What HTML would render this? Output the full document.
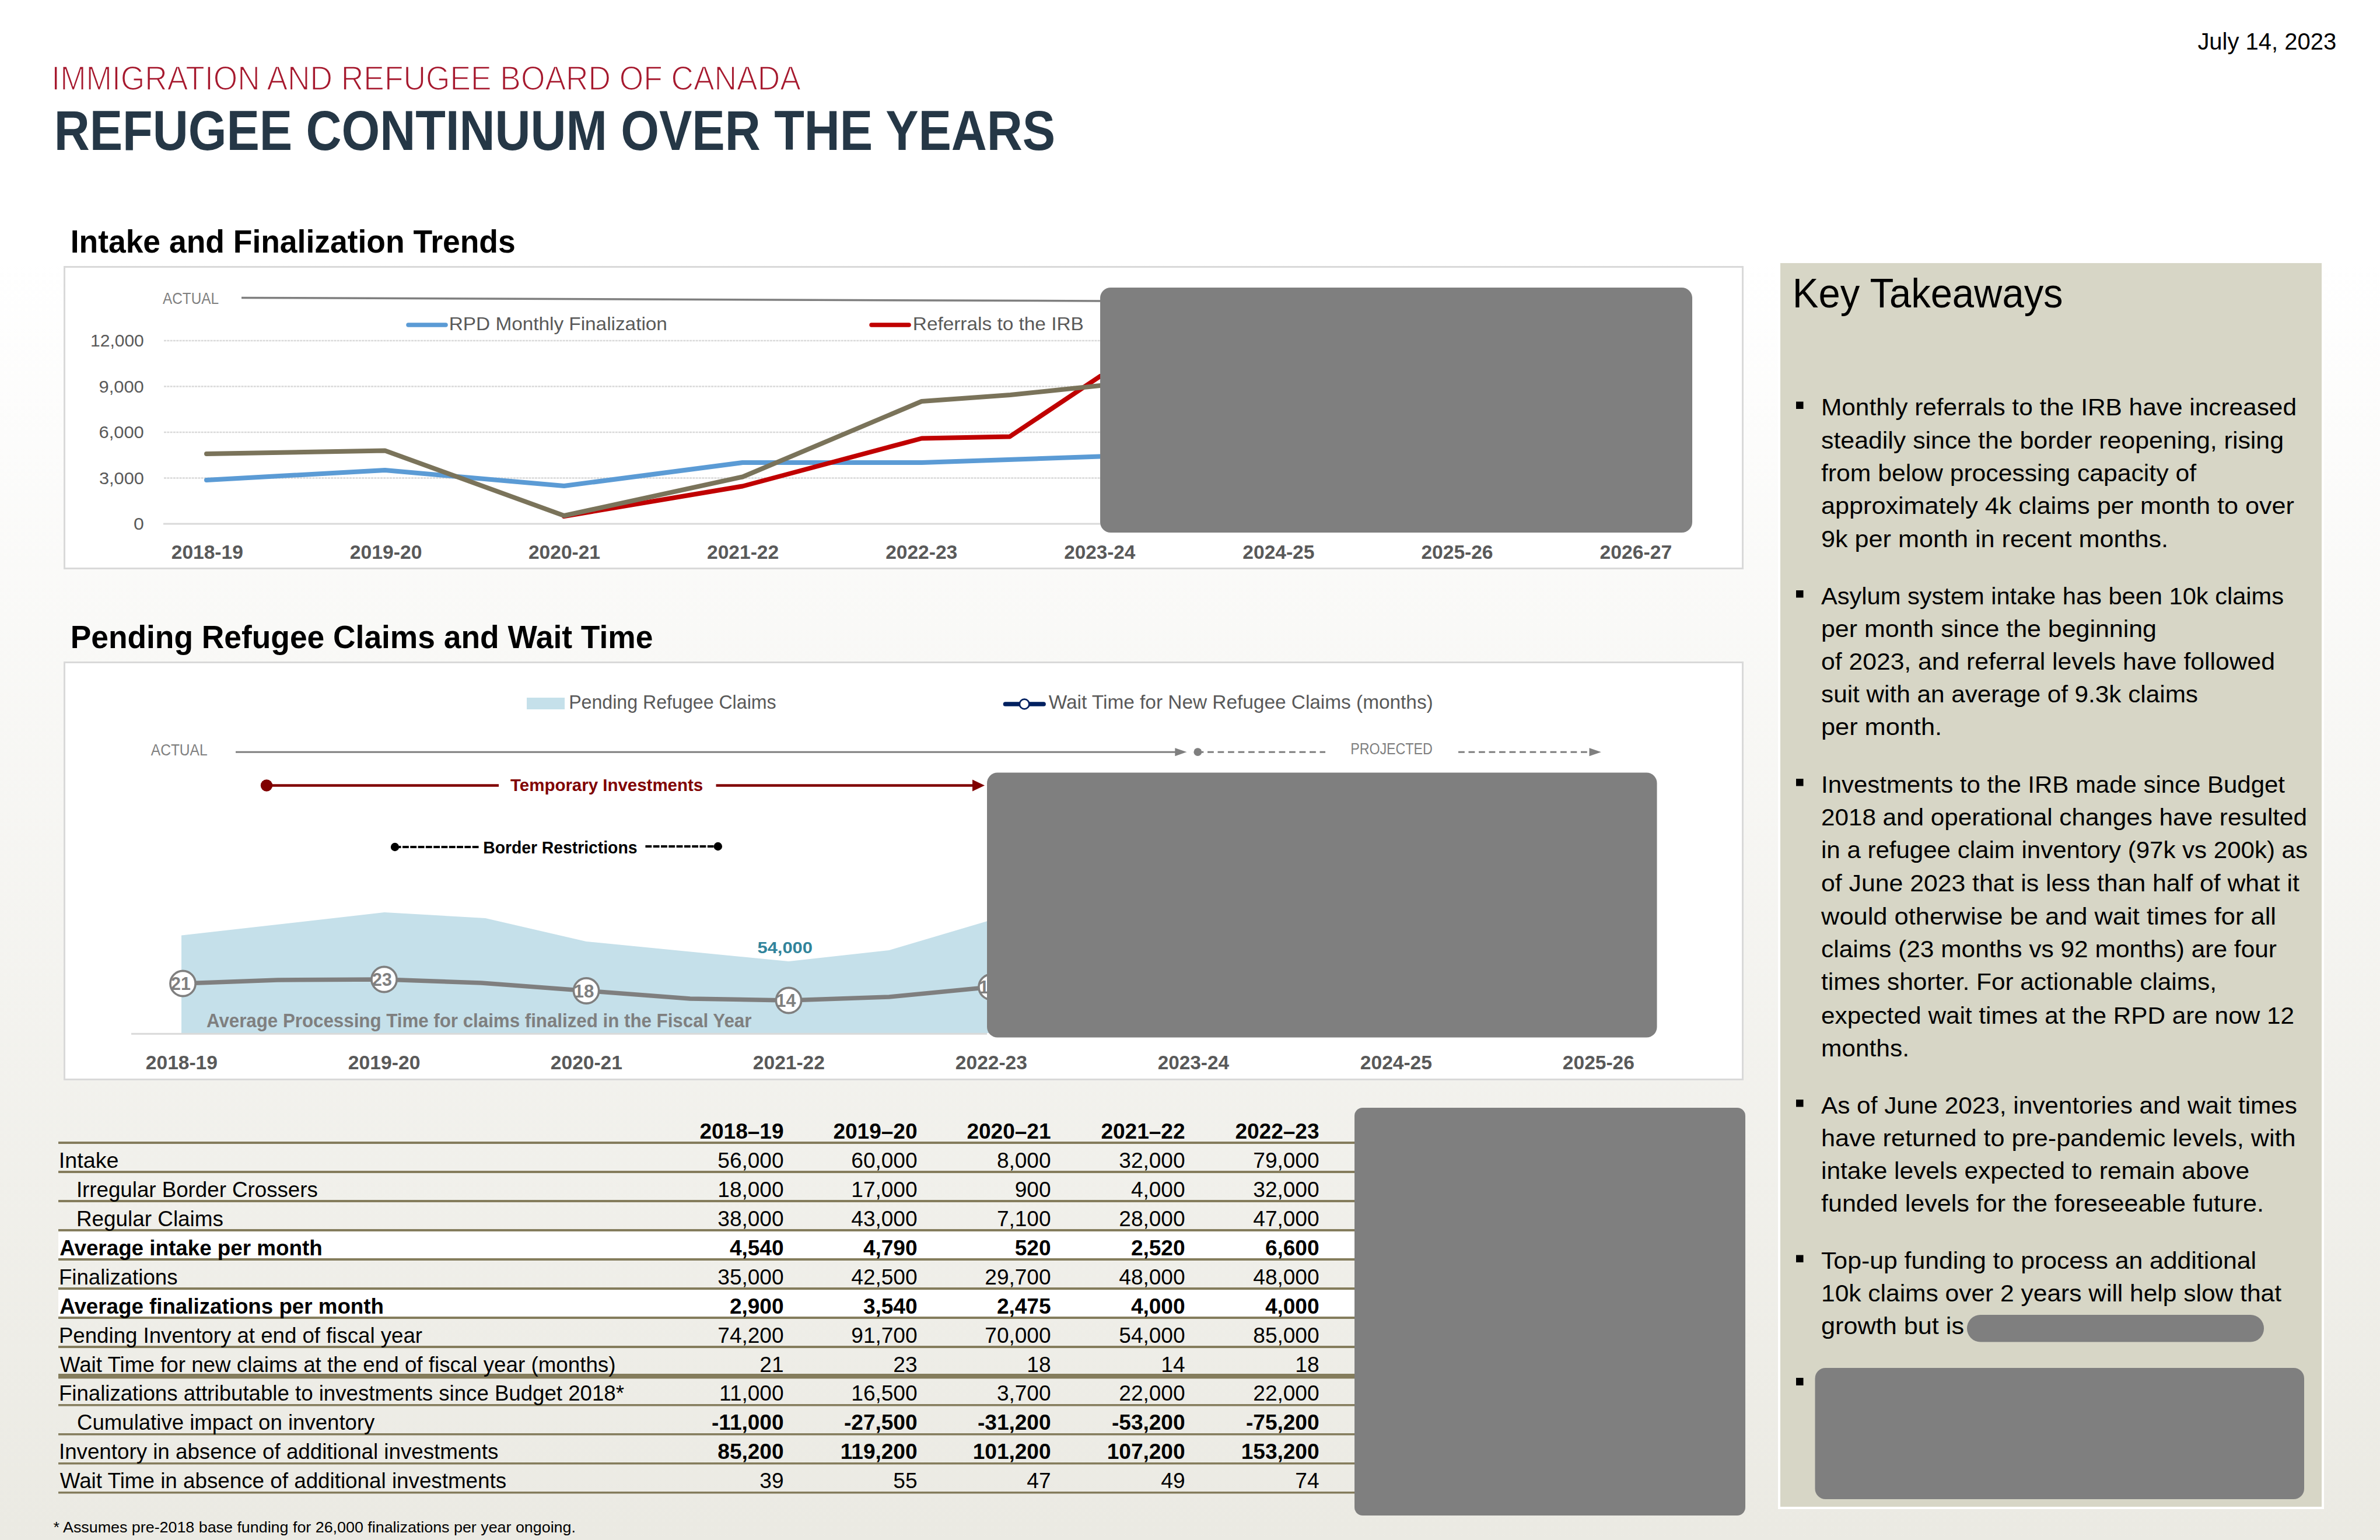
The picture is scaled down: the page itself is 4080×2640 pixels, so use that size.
<!DOCTYPE html>
<html><head><meta charset="utf-8"><title>Refugee Continuum Over the Years</title>
<style>
html,body{margin:0;padding:0;width:4080px;height:2640px;overflow:hidden;background:#fff}
svg{display:block;font-family:"Liberation Sans",sans-serif}
</style></head><body>
<svg width="4080" height="2640" viewBox="0 0 4080 2640">
<defs><linearGradient id="bg" x1="0" y1="0" x2="0" y2="1"><stop offset="0" stop-color="#ffffff"/><stop offset="0.17" stop-color="#ffffff"/><stop offset="1" stop-color="#ebeae3"/></linearGradient></defs>
<rect x="0" y="0" width="4080" height="2640" fill="url(#bg)"/>
<text x="3767.38" y="85" font-size="41.5" textLength="237.74" lengthAdjust="spacingAndGlyphs">July 14, 2023</text>
<text x="88.34" y="153.5" font-size="57" fill="#a6192e" textLength="1284.4" lengthAdjust="spacingAndGlyphs" stroke="#ffffff" stroke-width="1.6">IMMIGRATION AND REFUGEE BOARD OF CANADA</text>
<text x="92.72" y="256.5" font-size="97" font-weight="bold" fill="#253746" textLength="1716.5" lengthAdjust="spacingAndGlyphs">REFUGEE CONTINUUM OVER THE YEARS</text>
<text x="120.66" y="433" font-size="56" font-weight="bold" textLength="763.0" lengthAdjust="spacingAndGlyphs">Intake and Finalization Trends</text>
<text x="120.67" y="1111" font-size="56" font-weight="bold" textLength="998.66" lengthAdjust="spacingAndGlyphs">Pending Refugee Claims and Wait Time</text>
<rect x="110.5" y="457.5" width="2877" height="517" fill="#ffffff" stroke="#d9d9d9" stroke-width="3"/>
<line x1="281" y1="819.5" x2="1886" y2="819.5" stroke="#d9d9d9" stroke-width="2.5" stroke-dasharray="4 1.3"/>
<line x1="281" y1="741.0" x2="1886" y2="741.0" stroke="#d9d9d9" stroke-width="2.5" stroke-dasharray="4 1.3"/>
<line x1="281" y1="662.5" x2="1886" y2="662.5" stroke="#d9d9d9" stroke-width="2.5" stroke-dasharray="4 1.3"/>
<line x1="281" y1="584.0" x2="1886" y2="584.0" stroke="#d9d9d9" stroke-width="2.5" stroke-dasharray="4 1.3"/>
<line x1="280" y1="898" x2="1886" y2="898" stroke="#d9d9d9" stroke-width="3"/>
<text x="229.0" y="908.0" font-size="29.5" fill="#595959" textLength="17.8" lengthAdjust="spacingAndGlyphs">0</text>
<text x="170.04" y="829.5" font-size="29.5" fill="#595959" textLength="76.72" lengthAdjust="spacingAndGlyphs">3,000</text>
<text x="169.55" y="751.0" font-size="29.5" fill="#595959" textLength="77.21" lengthAdjust="spacingAndGlyphs">6,000</text>
<text x="169.55" y="672.5" font-size="29.5" fill="#595959" textLength="77.21" lengthAdjust="spacingAndGlyphs">9,000</text>
<text x="155.13" y="594.0" font-size="29.5" fill="#595959" textLength="91.62" lengthAdjust="spacingAndGlyphs">12,000</text>
<text x="279.0" y="521" font-size="27.5" fill="#7f7f7f" textLength="96.01" lengthAdjust="spacingAndGlyphs">ACTUAL</text>
<polyline points="414,510.5 1886,516" fill="none" stroke="#7f7f7f" stroke-width="3.5"/>
<line x1="700" y1="557" x2="764" y2="557" stroke="#5b9bd5" stroke-width="7.5" stroke-linecap="round"/>
<text x="769.8" y="566" font-size="31.7" fill="#595959" textLength="374.07" lengthAdjust="spacingAndGlyphs">RPD Monthly Finalization</text>
<line x1="1494" y1="557" x2="1558" y2="557" stroke="#c00000" stroke-width="7.5" stroke-linecap="round"/>
<text x="1564.79" y="566" font-size="31.7" fill="#595959" textLength="293.01" lengthAdjust="spacingAndGlyphs">Referrals to the IRB</text>
<text x="293.75" y="958" font-size="32.5" font-weight="bold" fill="#595959" textLength="123.08" lengthAdjust="spacingAndGlyphs">2018-19</text>
<text x="599.85" y="958" font-size="32.5" font-weight="bold" fill="#595959" textLength="123.62" lengthAdjust="spacingAndGlyphs">2019-20</text>
<text x="905.95" y="958" font-size="32.5" font-weight="bold" fill="#595959" textLength="123.08" lengthAdjust="spacingAndGlyphs">2020-21</text>
<text x="1212.05" y="958" font-size="32.5" font-weight="bold" fill="#595959" textLength="123.08" lengthAdjust="spacingAndGlyphs">2021-22</text>
<text x="1518.15" y="958" font-size="32.5" font-weight="bold" fill="#595959" textLength="123.08" lengthAdjust="spacingAndGlyphs">2022-23</text>
<text x="1824.26" y="958" font-size="32.5" font-weight="bold" fill="#595959" textLength="122.03" lengthAdjust="spacingAndGlyphs">2023-24</text>
<text x="2130.35" y="958" font-size="32.5" font-weight="bold" fill="#595959" textLength="123.08" lengthAdjust="spacingAndGlyphs">2024-25</text>
<text x="2436.45" y="958" font-size="32.5" font-weight="bold" fill="#595959" textLength="123.08" lengthAdjust="spacingAndGlyphs">2025-26</text>
<text x="2742.55" y="958" font-size="32.5" font-weight="bold" fill="#595959" textLength="123.62" lengthAdjust="spacingAndGlyphs">2026-27</text>
<polyline points="354,823 660,806 967,833 1273,793 1580,793 1886,782.5" fill="none" stroke="#5b9bd5" stroke-width="8" stroke-linejoin="round" stroke-linecap="round" />
<polyline points="967,885 1273,833.5 1580,751.5 1731,748.5 1886,645" fill="none" stroke="#c00000" stroke-width="8" stroke-linejoin="round" stroke-linecap="round" />
<polyline points="354,778 660,772.5 967,884 1273,817.5 1580,688 1732,677 1886,661" fill="none" stroke="#7a735a" stroke-width="8" stroke-linejoin="round" stroke-linecap="round" />
<rect x="1886" y="493" width="1015" height="420" rx="18" fill="#7f7f7f"/>
<rect x="110.5" y="1135.5" width="2877" height="715" fill="#ffffff" stroke="#d9d9d9" stroke-width="3"/>
<rect x="903" y="1196" width="65" height="20" fill="#c5e0ea"/>
<text x="975.19" y="1215.2" font-size="33.5" fill="#595959" textLength="355.41" lengthAdjust="spacingAndGlyphs">Pending Refugee Claims</text>
<line x1="1723.5" y1="1207" x2="1789" y2="1207" stroke="#002060" stroke-width="7.7" stroke-linecap="round"/>
<circle cx="1756.1" cy="1207" r="8.3" fill="#ffffff" stroke="#002060" stroke-width="2.8"/>
<text x="1797.7" y="1215.2" font-size="33.5" fill="#595959" textLength="659.03" lengthAdjust="spacingAndGlyphs">Wait Time for New Refugee Claims (months)</text>
<text x="258.8" y="1294.7" font-size="27" fill="#7f7f7f" textLength="96.81" lengthAdjust="spacingAndGlyphs">ACTUAL</text>
<line x1="404" y1="1289.2" x2="2016" y2="1289.2" stroke="#7f7f7f" stroke-width="3"/>
<path d="M2014.3,1282.2 L2034.5,1289.2 L2014.3,1296.2 Z" fill="#7f7f7f"/>
<circle cx="2053.3" cy="1289.2" r="6.9" fill="#7f7f7f"/>
<line x1="2052.5" y1="1289.2" x2="2272" y2="1289.2" stroke="#7f7f7f" stroke-width="3" stroke-dasharray="10.8 6.7"/>
<text x="2315.19" y="1293.4" font-size="27" fill="#7f7f7f" textLength="140.62" lengthAdjust="spacingAndGlyphs">PROJECTED</text>
<line x1="2500" y1="1289.2" x2="2727" y2="1289.2" stroke="#7f7f7f" stroke-width="3" stroke-dasharray="10.8 6.7"/>
<path d="M2724.5,1282.2 L2744.8,1289.2 L2724.5,1296.2 Z" fill="#7f7f7f"/>
<circle cx="457" cy="1346.5" r="10.2" fill="#800000"/>
<line x1="457" y1="1346.5" x2="855" y2="1346.5" stroke="#800000" stroke-width="4.5"/>
<text x="875.0" y="1356.1" font-size="29" font-weight="bold" fill="#800000" textLength="330.19" lengthAdjust="spacingAndGlyphs">Temporary Investments</text>
<line x1="1227.5" y1="1346.5" x2="1670" y2="1346.5" stroke="#800000" stroke-width="4.5"/>
<path d="M1667,1336.5 L1688,1346.5 L1667,1356.5 Z" fill="#800000"/>
<circle cx="677" cy="1452" r="7.2" fill="#000"/>
<line x1="677" y1="1452" x2="820.8" y2="1452" stroke="#000" stroke-width="4" stroke-dasharray="0 7 3.5 2.5 10.8 2.5 10.8 2.5 10.8 2.5 10.8 2.5 10.8 2.5 10.8 2.5 10.8 2.5 10.8 2.5 10.8 2.5 10.8 2.5 10.8 2.5"/>
<text x="828.23" y="1462.9" font-size="30" font-weight="bold" textLength="264.22" lengthAdjust="spacingAndGlyphs">Border Restrictions</text>
<line x1="1106.4" y1="1451" x2="1230.8" y2="1451" stroke="#000" stroke-width="4" stroke-dasharray="10.8 2.5"/>
<circle cx="1230.8" cy="1451" r="7.2" fill="#000"/>
<polygon points="311,1603.5 659,1564 832,1574 1005,1614 1352,1648 1524,1629 1699.5,1577 1699.5,1771 311,1771" fill="#c5e0ea"/>
<line x1="225" y1="1772.3" x2="1692" y2="1772.3" stroke="#d9d9d9" stroke-width="3"/>
<text x="1298.52" y="1633.6" font-size="28.5" font-weight="bold" fill="#31849b" textLength="94.33" lengthAdjust="spacingAndGlyphs">54,000</text>
<text x="354.01" y="1760.5" font-size="34" font-weight="bold" fill="#7f7f7f" textLength="934.43" lengthAdjust="spacingAndGlyphs">Average Processing Time for claims finalized in the Fiscal Year</text>
<polyline points="313.5,1686 476,1680 658.5,1679 825,1685 1005,1698.5 1183,1712 1352,1715 1524,1709 1699.5,1692" fill="none" stroke="#7f7f7f" stroke-width="7.5" stroke-linejoin="round" stroke-linecap="round" />
<circle cx="313.5" cy="1686" r="21.6" fill="#ffffff" stroke="#7f7f7f" stroke-width="3.6"/>
<text x="293.05" y="1697.3" font-size="31" font-weight="bold" fill="#7f7f7f" textLength="33.7" lengthAdjust="spacingAndGlyphs">21</text>
<circle cx="658.5" cy="1679" r="21.6" fill="#ffffff" stroke="#7f7f7f" stroke-width="3.6"/>
<text x="638.05" y="1690.3" font-size="31" font-weight="bold" fill="#7f7f7f" textLength="33.7" lengthAdjust="spacingAndGlyphs">23</text>
<circle cx="1005" cy="1698.5" r="21.6" fill="#ffffff" stroke="#7f7f7f" stroke-width="3.6"/>
<text x="983.55" y="1709.8" font-size="31" font-weight="bold" fill="#7f7f7f" textLength="34.73" lengthAdjust="spacingAndGlyphs">18</text>
<circle cx="1352" cy="1715" r="21.6" fill="#ffffff" stroke="#7f7f7f" stroke-width="3.6"/>
<text x="1330.61" y="1726.3" font-size="31" font-weight="bold" fill="#7f7f7f" textLength="33.7" lengthAdjust="spacingAndGlyphs">14</text>
<circle cx="1699.5" cy="1692" r="21.6" fill="#ffffff" stroke="#7f7f7f" stroke-width="3.6"/>
<text x="1678.05" y="1703.3" font-size="31" font-weight="bold" fill="#7f7f7f" textLength="34.73" lengthAdjust="spacingAndGlyphs">18</text>
<text x="249.85" y="1832.5" font-size="32.5" font-weight="bold" fill="#595959" textLength="123.08" lengthAdjust="spacingAndGlyphs">2018-19</text>
<text x="596.85" y="1832.5" font-size="32.5" font-weight="bold" fill="#595959" textLength="123.62" lengthAdjust="spacingAndGlyphs">2019-20</text>
<text x="943.85" y="1832.5" font-size="32.5" font-weight="bold" fill="#595959" textLength="123.08" lengthAdjust="spacingAndGlyphs">2020-21</text>
<text x="1290.85" y="1832.5" font-size="32.5" font-weight="bold" fill="#595959" textLength="123.08" lengthAdjust="spacingAndGlyphs">2021-22</text>
<text x="1637.85" y="1832.5" font-size="32.5" font-weight="bold" fill="#595959" textLength="123.08" lengthAdjust="spacingAndGlyphs">2022-23</text>
<text x="1984.86" y="1832.5" font-size="32.5" font-weight="bold" fill="#595959" textLength="122.03" lengthAdjust="spacingAndGlyphs">2023-24</text>
<text x="2331.85" y="1832.5" font-size="32.5" font-weight="bold" fill="#595959" textLength="123.08" lengthAdjust="spacingAndGlyphs">2024-25</text>
<text x="2678.85" y="1832.5" font-size="32.5" font-weight="bold" fill="#595959" textLength="123.08" lengthAdjust="spacingAndGlyphs">2025-26</text>
<rect x="1692" y="1324.5" width="1148.5" height="454" rx="18" fill="#7f7f7f"/>
<rect x="100" y="2111" width="2222" height="46" fill="#ffffff"/>
<rect x="100" y="2211" width="2222" height="46" fill="#ffffff"/>
<rect x="100" y="1957" width="2222" height="4" fill="#847c5c"/>
<rect x="100" y="2007" width="2222" height="4" fill="#847c5c"/>
<rect x="100" y="2057" width="2222" height="4" fill="#847c5c"/>
<rect x="100" y="2107" width="2222" height="4" fill="#847c5c"/>
<rect x="100" y="2157" width="2222" height="4" fill="#847c5c"/>
<rect x="100" y="2207" width="2222" height="4" fill="#847c5c"/>
<rect x="100" y="2257" width="2222" height="4" fill="#847c5c"/>
<rect x="100" y="2307" width="2222" height="4" fill="#847c5c"/>
<rect x="100" y="2355" width="2222" height="8.4" fill="#847c5c"/>
<rect x="100" y="2407" width="2222" height="3.5" fill="#847c5c"/>
<rect x="100" y="2457" width="2222" height="3.5" fill="#847c5c"/>
<rect x="100" y="2507" width="2222" height="3.5" fill="#847c5c"/>
<rect x="100" y="2557" width="2222" height="3.5" fill="#847c5c"/>
<text x="1343.5" y="1952" font-size="37" font-weight="bold" text-anchor="end">2018–19</text>
<text x="1572.5" y="1952" font-size="37" font-weight="bold" text-anchor="end">2019–20</text>
<text x="1801.5" y="1952" font-size="37" font-weight="bold" text-anchor="end">2020–21</text>
<text x="2031.5" y="1952" font-size="37" font-weight="bold" text-anchor="end">2021–22</text>
<text x="2261.5" y="1952" font-size="37" font-weight="bold" text-anchor="end">2022–23</text>
<text x="100.86" y="2002" font-size="37" textLength="102.67" lengthAdjust="spacingAndGlyphs">Intake</text>
<text x="1343.5" y="2002" font-size="37" text-anchor="end">56,000</text>
<text x="1572.5" y="2002" font-size="37" text-anchor="end">60,000</text>
<text x="1801.5" y="2002" font-size="37" text-anchor="end">8,000</text>
<text x="2031.5" y="2002" font-size="37" text-anchor="end">32,000</text>
<text x="2261.5" y="2002" font-size="37" text-anchor="end">79,000</text>
<text x="130.93" y="2052" font-size="37" textLength="413.91" lengthAdjust="spacingAndGlyphs">Irregular Border Crossers</text>
<text x="1343.5" y="2052" font-size="37" text-anchor="end">18,000</text>
<text x="1572.5" y="2052" font-size="37" text-anchor="end">17,000</text>
<text x="1801.5" y="2052" font-size="37" text-anchor="end">900</text>
<text x="2031.5" y="2052" font-size="37" text-anchor="end">4,000</text>
<text x="2261.5" y="2052" font-size="37" text-anchor="end">32,000</text>
<text x="130.92" y="2102" font-size="37" textLength="252.03" lengthAdjust="spacingAndGlyphs">Regular Claims</text>
<text x="1343.5" y="2102" font-size="37" text-anchor="end">38,000</text>
<text x="1572.5" y="2102" font-size="37" text-anchor="end">43,000</text>
<text x="1801.5" y="2102" font-size="37" text-anchor="end">7,100</text>
<text x="2031.5" y="2102" font-size="37" text-anchor="end">28,000</text>
<text x="2261.5" y="2102" font-size="37" text-anchor="end">47,000</text>
<text x="102.23" y="2152" font-size="37" font-weight="bold" textLength="450.55" lengthAdjust="spacingAndGlyphs">Average intake per month</text>
<text x="1343.5" y="2152" font-size="37" font-weight="bold" text-anchor="end">4,540</text>
<text x="1572.5" y="2152" font-size="37" font-weight="bold" text-anchor="end">4,790</text>
<text x="1801.5" y="2152" font-size="37" font-weight="bold" text-anchor="end">520</text>
<text x="2031.5" y="2152" font-size="37" font-weight="bold" text-anchor="end">2,520</text>
<text x="2261.5" y="2152" font-size="37" font-weight="bold" text-anchor="end">6,600</text>
<text x="100.94" y="2202" font-size="37" textLength="203.5" lengthAdjust="spacingAndGlyphs">Finalizations</text>
<text x="1343.5" y="2202" font-size="37" text-anchor="end">35,000</text>
<text x="1572.5" y="2202" font-size="37" text-anchor="end">42,500</text>
<text x="1801.5" y="2202" font-size="37" text-anchor="end">29,700</text>
<text x="2031.5" y="2202" font-size="37" text-anchor="end">48,000</text>
<text x="2261.5" y="2202" font-size="37" text-anchor="end">48,000</text>
<text x="102.23" y="2252" font-size="37" font-weight="bold" textLength="555.75" lengthAdjust="spacingAndGlyphs">Average finalizations per month</text>
<text x="1343.5" y="2252" font-size="37" font-weight="bold" text-anchor="end">2,900</text>
<text x="1572.5" y="2252" font-size="37" font-weight="bold" text-anchor="end">3,540</text>
<text x="1801.5" y="2252" font-size="37" font-weight="bold" text-anchor="end">2,475</text>
<text x="2031.5" y="2252" font-size="37" font-weight="bold" text-anchor="end">4,000</text>
<text x="2261.5" y="2252" font-size="37" font-weight="bold" text-anchor="end">4,000</text>
<text x="100.94" y="2302" font-size="37" textLength="623.14" lengthAdjust="spacingAndGlyphs">Pending Inventory at end of fiscal year</text>
<text x="1343.5" y="2302" font-size="37" text-anchor="end">74,200</text>
<text x="1572.5" y="2302" font-size="37" text-anchor="end">91,700</text>
<text x="1801.5" y="2302" font-size="37" text-anchor="end">70,000</text>
<text x="2031.5" y="2302" font-size="37" text-anchor="end">54,000</text>
<text x="2261.5" y="2302" font-size="37" text-anchor="end">85,000</text>
<text x="102.8" y="2352" font-size="37" textLength="952.7" lengthAdjust="spacingAndGlyphs">Wait Time for new claims at the end of fiscal year (months)</text>
<text x="1343.5" y="2352" font-size="37" text-anchor="end">21</text>
<text x="1572.5" y="2352" font-size="37" text-anchor="end">23</text>
<text x="1801.5" y="2352" font-size="37" text-anchor="end">18</text>
<text x="2031.5" y="2352" font-size="37" text-anchor="end">14</text>
<text x="2261.5" y="2352" font-size="37" text-anchor="end">18</text>
<text x="100.94" y="2401" font-size="37" textLength="968.98" lengthAdjust="spacingAndGlyphs">Finalizations attributable to investments since Budget 2018*</text>
<text x="1343.5" y="2401" font-size="37" text-anchor="end">11,000</text>
<text x="1572.5" y="2401" font-size="37" text-anchor="end">16,500</text>
<text x="1801.5" y="2401" font-size="37" text-anchor="end">3,700</text>
<text x="2031.5" y="2401" font-size="37" text-anchor="end">22,000</text>
<text x="2261.5" y="2401" font-size="37" text-anchor="end">22,000</text>
<text x="132.09" y="2451" font-size="37" textLength="510.31" lengthAdjust="spacingAndGlyphs">Cumulative impact on inventory</text>
<text x="1343.5" y="2451" font-size="37" font-weight="bold" text-anchor="end">-11,000</text>
<text x="1572.5" y="2451" font-size="37" font-weight="bold" text-anchor="end">-27,500</text>
<text x="1801.5" y="2451" font-size="37" font-weight="bold" text-anchor="end">-31,200</text>
<text x="2031.5" y="2451" font-size="37" font-weight="bold" text-anchor="end">-53,200</text>
<text x="2261.5" y="2451" font-size="37" font-weight="bold" text-anchor="end">-75,200</text>
<text x="100.93" y="2501" font-size="37" textLength="753.42" lengthAdjust="spacingAndGlyphs">Inventory in absence of additional investments</text>
<text x="1343.5" y="2501" font-size="37" font-weight="bold" text-anchor="end">85,200</text>
<text x="1572.5" y="2501" font-size="37" font-weight="bold" text-anchor="end">119,200</text>
<text x="1801.5" y="2501" font-size="37" font-weight="bold" text-anchor="end">101,200</text>
<text x="2031.5" y="2501" font-size="37" font-weight="bold" text-anchor="end">107,200</text>
<text x="2261.5" y="2501" font-size="37" font-weight="bold" text-anchor="end">153,200</text>
<text x="102.8" y="2551" font-size="37" textLength="765.35" lengthAdjust="spacingAndGlyphs">Wait Time in absence of additional investments</text>
<text x="1343.5" y="2551" font-size="37" text-anchor="end">39</text>
<text x="1572.5" y="2551" font-size="37" text-anchor="end">55</text>
<text x="1801.5" y="2551" font-size="37" text-anchor="end">47</text>
<text x="2031.5" y="2551" font-size="37" text-anchor="end">49</text>
<text x="2261.5" y="2551" font-size="37" text-anchor="end">74</text>
<rect x="2322" y="1899" width="670" height="699" rx="14" fill="#7f7f7f"/>
<text x="91.58" y="2627" font-size="26" textLength="895.34" lengthAdjust="spacingAndGlyphs">* Assumes pre-2018 base funding for 26,000 finalizations per year ongoing.</text>
<rect x="3050" y="449" width="932" height="2136" fill="#d7d6c6" stroke="#ffffff" stroke-width="4"/>
<text x="3072.78" y="526.5" font-size="70" textLength="463.8" lengthAdjust="spacingAndGlyphs">Key Takeaways</text>
<rect x="3079" y="688.5" width="12.5" height="12.5" fill="#000"/>
<text x="3122" y="712" font-size="41" textLength="815" lengthAdjust="spacingAndGlyphs">Monthly referrals to the IRB have increased</text>
<text x="3122" y="768.5" font-size="41" textLength="793" lengthAdjust="spacingAndGlyphs">steadily since the border reopening, rising</text>
<text x="3122" y="824.5" font-size="41" textLength="643" lengthAdjust="spacingAndGlyphs">from below processing capacity of</text>
<text x="3122" y="880.5" font-size="41" textLength="811" lengthAdjust="spacingAndGlyphs">approximately 4k claims per month to over</text>
<text x="3122" y="937.5" font-size="41" textLength="595" lengthAdjust="spacingAndGlyphs">9k per month in recent months.</text>
<rect x="3079" y="1012.0" width="12.5" height="12.5" fill="#000"/>
<text x="3122" y="1035.5" font-size="41" textLength="793" lengthAdjust="spacingAndGlyphs">Asylum system intake has been 10k claims</text>
<text x="3122" y="1091.5" font-size="41" textLength="575" lengthAdjust="spacingAndGlyphs">per month since the beginning</text>
<text x="3122" y="1148" font-size="41" textLength="778" lengthAdjust="spacingAndGlyphs">of 2023, and referral levels have followed</text>
<text x="3122" y="1204" font-size="41" textLength="646" lengthAdjust="spacingAndGlyphs">suit with an average of 9.3k claims</text>
<text x="3122" y="1260" font-size="41" textLength="207" lengthAdjust="spacingAndGlyphs">per month.</text>
<rect x="3079" y="1335.0" width="12.5" height="12.5" fill="#000"/>
<text x="3122" y="1358.5" font-size="41" textLength="795" lengthAdjust="spacingAndGlyphs">Investments to the IRB made since Budget</text>
<text x="3122" y="1415" font-size="41" textLength="833" lengthAdjust="spacingAndGlyphs">2018 and operational changes have resulted</text>
<text x="3122" y="1470.5" font-size="41" textLength="834" lengthAdjust="spacingAndGlyphs">in a refugee claim inventory (97k vs 200k) as</text>
<text x="3122" y="1528" font-size="41" textLength="820" lengthAdjust="spacingAndGlyphs">of June 2023 that is less than half of what it</text>
<text x="3122" y="1584.5" font-size="41" textLength="780" lengthAdjust="spacingAndGlyphs">would otherwise be and wait times for all</text>
<text x="3122" y="1640.5" font-size="41" textLength="781" lengthAdjust="spacingAndGlyphs">claims (23 months vs 92 months) are four</text>
<text x="3122" y="1697" font-size="41" textLength="678" lengthAdjust="spacingAndGlyphs">times shorter. For actionable claims,</text>
<text x="3122" y="1754.5" font-size="41" textLength="811" lengthAdjust="spacingAndGlyphs">expected wait times at the RPD are now 12</text>
<text x="3122" y="1810.5" font-size="41" textLength="151" lengthAdjust="spacingAndGlyphs">months.</text>
<rect x="3079" y="1885.0" width="12.5" height="12.5" fill="#000"/>
<text x="3122" y="1908.5" font-size="41" textLength="816" lengthAdjust="spacingAndGlyphs">As of June 2023, inventories and wait times</text>
<text x="3122" y="1965" font-size="41" textLength="813.5" lengthAdjust="spacingAndGlyphs">have returned to pre-pandemic levels, with</text>
<text x="3122" y="2020.5" font-size="41" textLength="734" lengthAdjust="spacingAndGlyphs">intake levels expected to remain above</text>
<text x="3122" y="2077" font-size="41" textLength="759" lengthAdjust="spacingAndGlyphs">funded levels for the foreseeable future.</text>
<rect x="3079" y="2151.5" width="12.5" height="12.5" fill="#000"/>
<text x="3122" y="2175" font-size="41" textLength="746" lengthAdjust="spacingAndGlyphs">Top-up funding to process an additional</text>
<text x="3122" y="2231" font-size="41" textLength="789" lengthAdjust="spacingAndGlyphs">10k claims over 2 years will help slow that</text>
<text x="3122" y="2287" font-size="41" textLength="245" lengthAdjust="spacingAndGlyphs">growth but is</text>
<rect x="3079" y="2362" width="12.5" height="13" fill="#000"/>
<rect x="3372" y="2254" width="509" height="46.5" rx="23" fill="#7f7f7f"/>
<rect x="3111.5" y="2345" width="838.5" height="225" rx="18" fill="#7f7f7f"/>
</svg>
</body></html>
